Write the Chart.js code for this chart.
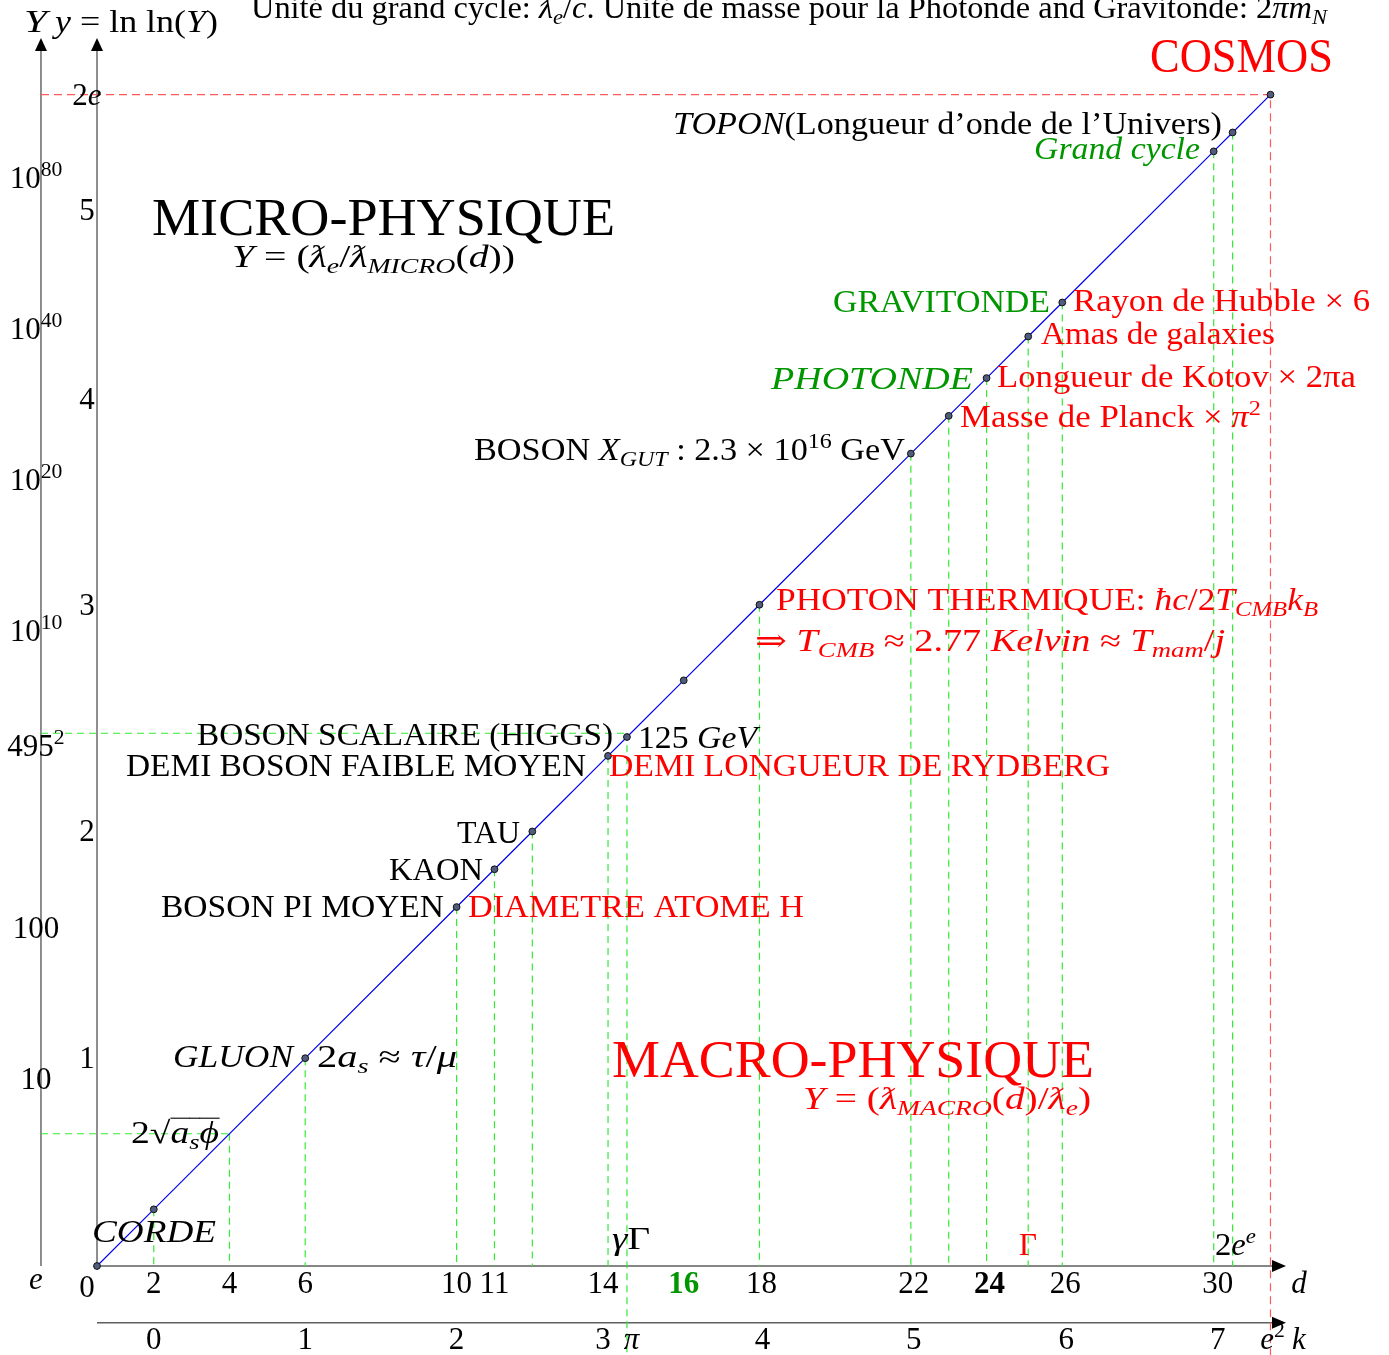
<!DOCTYPE html>
<html><head><meta charset="utf-8">
<script src="https://cdn.jsdelivr.net/npm/chart.js@4.4.1/dist/chart.umd.min.js"></script>
<style>html,body{margin:0;padding:0;background:#fff;overflow:hidden}canvas{display:block}</style>
</head><body>
<canvas id="c" width="1389" height="1355" style="width:1389px;height:1355px"></canvas>
<script>
// ---------------- DATA ----------------
// positions on the diagonal (d = cycle index, y = same scale along the diagonal)
const pointD = [0.5, 2, 6, 10, 11, 12, 14, 14.5, 16, 18, 22, 23, 24, 25.1, 26, 30, 30.5, 31.5];
const pointY = [0.5, 2, 6, 10, 11, 12, 14, 14.5, 16, 18, 22, 23, 24, 25.1, 26, 30, 30.5, 31.5];
// green dashed drop lines (from the diagonal down to the d axis)
const dropD   = [2, 4, 6, 10, 11, 12, 14, 18, 22, 23, 24, 25.1, 26, 30, 30.5];
const dropTop = [2, 4, 6, 10, 11, 12, 14, 18, 22, 23, 24, 25.1, 26, 30, 30.5];
// green horizontal guides (2*sqrt(a_s*phi) and 495^2 levels)
const guideY    = [4, 14.6];
const guideEndD = [4, 14.5];
// the pi / gamma*Gamma line that crosses both axes
const piLineD = 14.5, piLineTop = 14.6;
// COSMOS corner
const cosmosD = 31.5, cosmosY = 31.5;

// tick labels
const dTicks      = [2, 4, 6, 10, 11, 14, 16, 18, 22, 24, 26, 30];
const dTickLabels = ['2','4','6','10','11','14',[['16','b']],'18','22',[['24','b']],'26','30'];
const dTickColors = ['#000','#000','#000','#000','#000','#000','rgb(0,150,0)','#000','#000','#000','#000','#000'];
const kTicks      = [0, 1, 2, 3, Math.PI, 4, 5, 6, 7, Math.E * Math.E];
const kTickLabels = ['0','1','2','3',[['π','i']],'4','5','6','7',[['e','i'],['2','^']]];
const yTickPos    = [-0.05, 6, 12, 18, 23.45, 28.45, 31.5];
const yTickLabels = ['0','1','2','3','4','5',['2',['e','i']]];
const YTickPos    = [0.15, 5.45, 9.45, 14.27, 17.3, 21.3, 25.3, 29.3];
const YTickLabels = [[['e','i']],'10','100',['495',['2','^']],['10',['10','^']],['10',['20','^']],['10',['40','^']],['10',['80','^']]];

// layout constants (axis units)
const D_MIN = 0.5, D_MAX = 31.91, Y_MIN = 0.5, Y_MAX = 33;
const OUTER_AXIS_D = -0.98, K_AXIS_Y = -1.0, BOTTOM_Y = -1.9;
// small label nudges (px) as in the original drawing
const dTickNudge = [0,0,0,0,0,-5,0,2,3,3,3,4];
const kTickNudge = [0,0,0,-5,2,3,3,4,4,0];

const RED = '#ff0000', GREEN = 'rgb(0,150,0)';
const notes = [
 {s:['Unité du grand cycle: ',['ƛ','i'],['e','i_'],'/',['c','i'],'. Unité de masse pour la Photonde and Gravitonde: 2',['πm','i'],['N','i_']], x:251, y:18, w:1076},
 {s:[['Y','i']], x:24, y:32, w:23},
 {s:[['y','i'],' = ln ln(',['Y','i'],')'], x:55, y:32, w:163},
 {s:['COSMOS'], x:1150, y:72, w:183, size:48, c:RED},
 {s:[['TOPON','i'],'(Longueur d’onde de l’Univers)'], x:673, y:134, w:549},
 {s:[['Grand cycle','i']], x:1034, y:159, w:166, c:GREEN},
 {s:['MICRO-PHYSIQUE'], x:152, y:235, w:463, size:52},
 {s:[['Y','i'],' = (',['ƛ','i'],['e','i_'],'/',['ƛ','i'],['MICRO','i_'],'(',['d','i'],'))'], x:232, y:267, w:283},
 {s:['GRAVITONDE'], x:833, y:312, w:217, c:GREEN},
 {s:['Rayon de Hubble × 6'], x:1073, y:311, w:297, c:RED},
 {s:['Amas de galaxies'], x:1041, y:344, w:234, c:RED},
 {s:[['PHOTONDE','i']], x:771, y:389, w:202, c:GREEN},
 {s:['Longueur de Kotov × 2πa'], x:997, y:387, w:359, c:RED},
 {s:['Masse de Planck × ',['π','i'],['2','^']], x:960, y:427, w:301, c:RED},
 {s:['BOSON ',['X','i'],['GUT','i_'],' : 2.3 × 10',['16','^'],' GeV'], x:474, y:460, w:431},
 {s:['PHOTON THERMIQUE: ',['ħc','i'],'/2',['T','i'],['CMB','i_'],['k','i'],['B','i_']], x:776, y:610, w:542, c:RED},
 {s:['⇒ ',['T','i'],['CMB','i_'],' ≈ 2.77 ',['Kelvin','i'],' ≈ ',['T','i'],['mam','i_'],'/',['j','i']], x:755, y:651, w:470, c:RED},
 {s:['BOSON SCALAIRE (HIGGS)'], x:197, y:745, w:416},
 {s:['125 ',['GeV','i']], x:638, y:748, w:119},
 {s:['DEMI BOSON FAIBLE MOYEN'], x:126, y:776, w:460},
 {s:['DEMI LONGUEUR DE RYDBERG'], x:609, y:776, w:501, c:RED},
 {s:['TAU'], x:457, y:843, w:63},
 {s:['KAON'], x:389, y:880, w:94},
 {s:['BOSON PI MOYEN'], x:161, y:917, w:283},
 {s:['DIAMETRE ATOME H'], x:468, y:917, w:336, c:RED},
 {s:[['GLUON','i']], x:173, y:1067, w:120},
 {s:['2',['a','i'],['s','i_'],' ≈ ',['τ','i'],'/',['μ','i']], x:317, y:1067, w:140},
 {s:['MACRO-PHYSIQUE'], x:612, y:1077, w:482, size:52, c:RED},
 {s:[['Y','i'],' = (',['ƛ','i'],['MACRO','i_'],'(',['d','i'],')/',['ƛ','i'],['e','i_'],')'], x:803, y:1109, w:288, c:RED},
 {s:['2','√',['a','io'],['s','i_o'],['ϕ','io']], x:131, y:1143, w:88},
 {s:[['CORDE','i']], x:92, y:1242, w:124},
 {s:[['γ','i'],'Γ'], x:612, y:1249, w:38},
 {s:['Γ'], x:1019, y:1255, w:18, c:RED},
 {s:['2',['e','i'],['e','i^']], x:1215, y:1255, w:41}
];

// ---------------- helpers ----------------
const FAM = '"Liberation Serif","DejaVu Serif",serif';
const BASE = 31;
function segList(s){ if(!Array.isArray(s)) s=[s]; return s.map(p => typeof p==='string' ? {t:p, st:''} : {t:p[0], st:p[1]||''}); }
function segSize(st,size){ return (st.includes('^')||st.includes('_')) ? size*0.7 : size; }
function segDy(st,size){ return st.includes('^') ? -size*0.38 : st.includes('_') ? size*0.2 : 0; }
function fontStr(st,size){ return (st.includes('i')?'italic ':'')+(st.includes('b')?'bold ':'')+size.toFixed(2)+'px '+FAM; }
function measureRich(ctx,s,size){ let w=0; for(const p of segList(s)){ ctx.font=fontStr(p.st,segSize(p.st,size)); w+=ctx.measureText(p.t).width; } return w; }
function drawRich(ctx,s,x,y,size,color,align,fitW){
  const list=segList(s); const w=measureRich(ctx,s,size);
  const sx = fitW ? fitW/w : 1; const tot=w*sx;
  const x0 = align==='center' ? x-tot/2 : align==='right' ? x-tot : x;
  ctx.save(); ctx.translate(x0,y); ctx.scale(sx,1);
  ctx.fillStyle=color; ctx.strokeStyle=color; ctx.textAlign='left'; ctx.textBaseline='alphabetic';
  let cx=0;
  for(const p of list){
    const sz=segSize(p.st,size); ctx.font=fontStr(p.st,sz);
    const tw=ctx.measureText(p.t).width;
    ctx.fillText(p.t,cx,segDy(p.st,size));
    if(p.st.includes('o')){ ctx.lineWidth=1.1; ctx.beginPath(); ctx.moveTo(cx,-size*0.8); ctx.lineTo(cx+tw+0.5,-size*0.8); ctx.stroke(); }
    cx+=tw;
  }
  ctx.restore();
}
function arrow(ctx,x,y,dir){
  ctx.save(); ctx.fillStyle='#000'; ctx.beginPath();
  if(dir==='up'){ ctx.moveTo(x,y); ctx.lineTo(x-6,y+13); ctx.lineTo(x+6,y+13); }
  else { ctx.moveTo(x,y); ctx.lineTo(x-14,y-6); ctx.lineTo(x-14,y+6); }
  ctx.closePath(); ctx.fill(); ctx.restore();
}

// ---------------- datasets ----------------
const diag = pointD.map((d,i)=>({x:d, y:pointY[i]}));
const drops = [];
dropD.forEach((d,i)=>{ drops.push({x:d,y:dropTop[i]},{x:d,y:Y_MIN},{x:d,y:null}); });
drops.push({x:piLineD,y:piLineTop},{x:piLineD,y:BOTTOM_Y});
const guides = [];
guideY.forEach((g,i)=>{ guides.push({x:OUTER_AXIS_D,y:g},{x:guideEndD[i],y:g},{x:guideEndD[i],y:null}); });
const redLine = [{x:OUTER_AXIS_D,y:cosmosY},{x:cosmosD,y:cosmosY},{x:cosmosD,y:BOTTOM_Y}];

const axesPlugin = {
  id:'axesAndText',
  beforeDatasetsDraw(chart){
    const ctx=chart.ctx, xs=chart.scales.x, ys=chart.scales.y;
    const x0=xs.getPixelForValue(D_MIN), xo=xs.getPixelForValue(OUTER_AXIS_D), xe=xs.getPixelForValue(D_MAX);
    const yb=ys.getPixelForValue(Y_MIN), yt=ys.getPixelForValue(Y_MAX), yk=ys.getPixelForValue(K_AXIS_Y);
    ctx.save(); ctx.strokeStyle='rgb(95,95,95)'; ctx.lineWidth=1.4;
    ctx.beginPath();
    ctx.moveTo(xo,yb); ctx.lineTo(xo,yt+10);
    ctx.moveTo(x0,yb); ctx.lineTo(x0,yt+10);
    ctx.moveTo(x0,yb); ctx.lineTo(xe-10,yb);
    ctx.moveTo(x0,yk); ctx.lineTo(xe-10,yk);
    ctx.stroke(); ctx.restore();
    arrow(ctx,xo,yt,'up'); arrow(ctx,x0,yt,'up');
    arrow(ctx,xe,yb,'right'); arrow(ctx,xe,yk,'right');
  },
  afterDatasetsDraw(chart){
    const ctx=chart.ctx, xs=chart.scales.x, ks=chart.scales.k, ys=chart.scales.y;
    const yb=ys.getPixelForValue(Y_MIN), yk=ys.getPixelForValue(K_AXIS_Y);
    const xo=xs.getPixelForValue(OUTER_AXIS_D), x0=xs.getPixelForValue(D_MIN), xe=xs.getPixelForValue(D_MAX);
    dTicks.forEach((v,i)=>drawRich(ctx,dTickLabels[i],xs.getPixelForValue(v)+dTickNudge[i],yb+27,BASE,dTickColors[i],'center'));
    kTicks.forEach((v,i)=>drawRich(ctx,kTickLabels[i],ks.getPixelForValue(v)+kTickNudge[i],yk+26,BASE,'#000','center'));
    yTickPos.forEach((v,i)=>drawRich(ctx,yTickLabels[i],x0-10,ys.getPixelForValue(v)+10,BASE,'#000','center'));
    YTickPos.forEach((v,i)=>drawRich(ctx,YTickLabels[i],xo-5,ys.getPixelForValue(v)+10,BASE,'#000','center'));
    drawRich(ctx,[['d','i']],xe+13,yb+27,BASE,'#000','center');
    drawRich(ctx,[['k','i']],xe+13,yk+26,BASE,'#000','center');
    notes.forEach(n=>drawRich(ctx,n.s,n.x,n.y,n.size||BASE,n.c||'#000','left',n.w));
  }
};

new Chart(document.getElementById('c'), {
  type:'line',
  data:{ datasets:[
    {data:diag, borderColor:'rgb(0,0,235)', borderWidth:1.2, pointRadius:3.4, pointBackgroundColor:'rgb(80,92,125)', pointBorderColor:'#111', pointBorderWidth:1, clip:false},
    {data:drops, borderColor:'rgb(50,235,50)', borderWidth:1.2, borderDash:[7,5], pointRadius:0, clip:false},
    {data:guides, borderColor:'rgb(50,235,50)', borderWidth:1.2, borderDash:[7,5], pointRadius:0, clip:false},
    {data:redLine, borderColor:'rgb(255,90,90)', borderWidth:1.2, borderDash:[8,5], pointRadius:0, clip:false}
  ]},
  options:{
    responsive:false, animation:false, devicePixelRatio:1,
    layout:{padding:{left:97, right:103, top:38, bottom:89}},
    elements:{line:{tension:0}},
    scales:{
      x:{type:'linear', min:D_MIN, max:D_MAX, display:false},
      k:{type:'linear', axis:'x', position:'bottom', min:(D_MIN-2)/4, max:(D_MAX-2)/4, display:false},
      y:{type:'linear', min:Y_MIN, max:Y_MAX, display:false}
    },
    plugins:{legend:{display:false}, tooltip:{enabled:false}, title:{display:false}}
  },
  plugins:[axesPlugin]
});
</script>
</body></html>
